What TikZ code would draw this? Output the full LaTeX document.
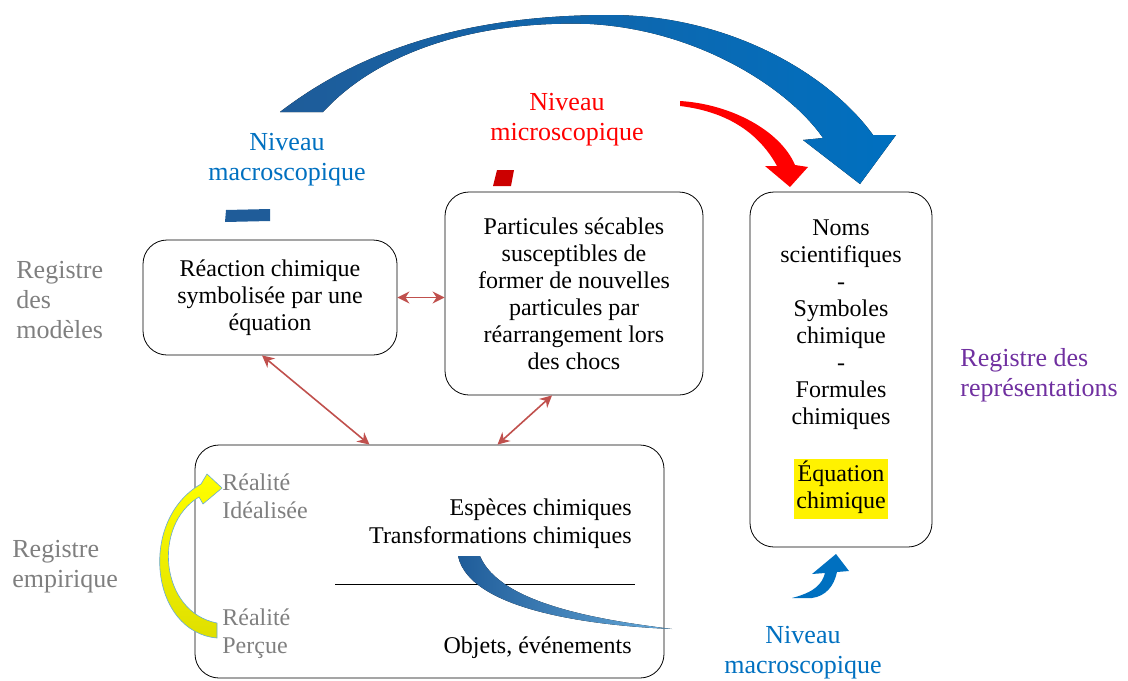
\documentclass[tikz,border=0pt]{standalone}
\usepackage{fontspec}
\setmainfont{Liberation Serif}
\usetikzlibrary{arrows.meta}
\definecolor{niveaublue}{HTML}{0070C0}
\definecolor{arcdark}{HTML}{1F5C99}
\definecolor{linkred}{HTML}{C0504D}
\definecolor{regpurple}{HTML}{7030A0}
\definecolor{reggray}{HTML}{7F7F7F}
\setlength{\fboxsep}{1pt}

\begin{document}
\begin{tikzpicture}[x=0.5pt, y=-0.5pt, >={Stealth[length=6pt,width=6pt]},
    box/.style={draw, rounded corners=12pt, align=center, inner sep=0pt, font=\fontsize{12}{13.5}\selectfont},
    boxtext/.style={align=center, inner sep=0pt, font=\fontsize{12}{14}\selectfont},
    regtext/.style={align=left, inner sep=0pt, font=\fontsize{13}{15}\selectfont},
    niveau/.style={align=center, inner sep=0pt, font=\fontsize{13}{15}\selectfont},
    link/.style={<->, linkred, line width=0.8pt}]
        \useasboundingbox (0,0) rectangle (1128,680);

        \node[box, minimum width=127pt, minimum height=57.5pt] (reac) at (270,297.5)
            {Réaction chimique\\symbolisée par une\\équation};
        \node[box, minimum width=129pt, minimum height=101.5pt] (part) at (574,293.5)
            {Particules sécables\\susceptibles de\\former de nouvelles\\particules par\\réarrangement lors\\des chocs};
        \node[box, minimum width=91pt, minimum height=177.5pt] (repr) at (841,369.5)
            {Noms\\scientifiques\\-\\Symboles\\chimique\\-\\Formules\\chimiques\\[13.5pt]%
             \colorbox{yellow}{\begin{tabular}{@{}c@{}}Équation\\chimique\end{tabular}}};
        \node[box, minimum width=234.5pt, minimum height=116.5pt] (emp) at (429.5,561.5) {};

        \draw (335,584) -- (635,584);
        \node[boxtext, anchor=east, align=right] (espe) at (632,524) {Espèces chimiques\\Transformations chimiques};
        \node[boxtext, anchor=east] (obje) at (632,648) {Objets, événements};
        \node[boxtext, reggray, anchor=west, align=left] (ideal) at (222,496) {Réalité\\Idéalisée};
        \node[boxtext, reggray, anchor=west, align=left] (percu) at (222,634) {Réalité\\Perçue};

        \node[regtext, reggray, anchor=west] (modl) at (16,300) {Registre\\des\\modèles};
        \node[regtext, reggray, anchor=west] (empi) at (12,567) {Registre\\empirique};
        \node[regtext, regpurple, anchor=west] (rrep) at (960,375) {Registre des\\représentations};
        \node[niveau, niveaublue] (macr) at (287,160) {Niveau\\macroscopique};
        \node[niveau, red] (micr) at (567,120) {Niveau\\microscopique};
        \node[niveau, niveaublue] (macb) at (803,653) {Niveau\\macroscopique};

        \draw[link] (reac.east) -- (reac.east -| part.west);
        \draw[link] ([xshift=-4pt]reac.south) -- ([xshift=-30pt]emp.north);
        \draw[link] ([xshift=-11pt]part.south) -- ([xshift=34pt]emp.north);

        \fill[left color=arcdark, right color=niveaublue] (280,112) .. controls (380,35) and (500,15) .. (610,15)
            .. controls (730,15) and (830,75) .. (873,135) -- (896,135) -- (860,184) -- (803,140) -- (823,138)
            .. controls (790,90) and (700,30) .. (590,24) .. controls (480,20) and (380,50) .. (323,112) -- cycle;
        \fill[red] (680,101) .. controls (730,104) and (780,130) .. (795,165) -- (808,167) -- (790,187) -- (765,166)
            -- (777,166) .. controls (760,135) and (730,112) .. (680,106) -- cycle;
        \fill[arcdark] (226,210) -- (270,209) -- (270,221) -- (225,222) -- cycle;
        \fill[red!80!black] (497,170) -- (514,170) -- (511,186) -- (493,186) -- cycle;

        \shadedraw[top color=yellow, bottom color=yellow!75!olive, draw=niveaublue!60, line width=0.3pt]
            (217,638) .. controls (150,632) and (138,520) .. (201,484) -- (207,474) -- (222,488) -- (203,504)
            -- (199,497) .. controls (152,525) and (160,612) .. (217,623) -- cycle;
        \fill[left color=arcdark, right color=niveaublue!60] (458,556) .. controls (470,612) and (600,626) .. (672,629)
            .. controls (600,620) and (500,604) .. (480,556) -- cycle;
        \fill[niveaublue] (792,598) .. controls (815,592) and (822,584) .. (825,573) -- (812,574) -- (836,554)
            -- (849,571) -- (837,572) .. controls (834,586) and (826,596) .. (812,598) -- cycle;
      \end{tikzpicture}
\end{document}
